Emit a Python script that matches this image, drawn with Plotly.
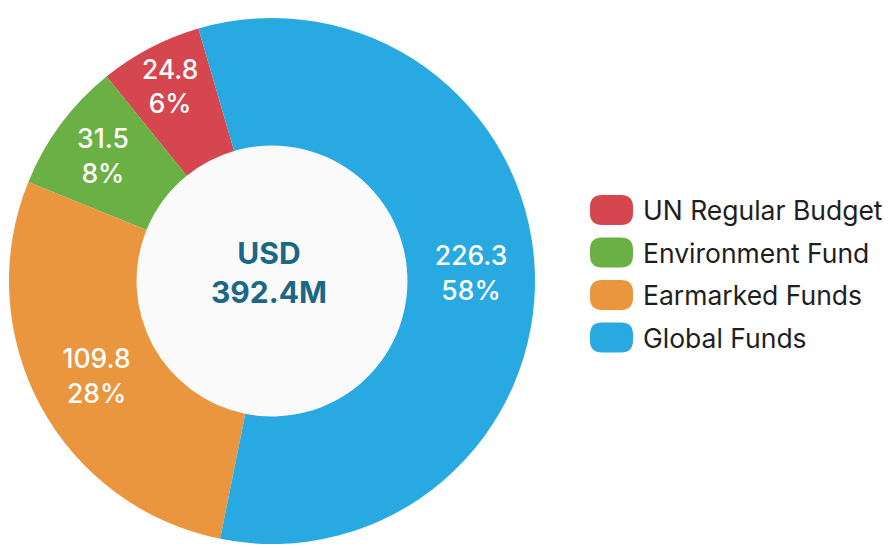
import plotly.graph_objects as go

labels = ["UN Regular Budget", "Environment Fund", "Earmarked Funds", "Global Funds"]
values = [24.8, 31.5, 109.8, 226.3]
colors = ["#d6464f", "#6bb045", "#e9963e", "#29a9e1"]
center_label = "USD<br>392.4M"

# page body has an 8px margin; figure drawn in reference pixel coords minus 8
OFF = 8
W, H = 890 - OFF, 550 - OFF
X = lambda px: (px - OFF) / W
Y = lambda py: 1 - (py - OFF) / H

cx, cy, R = 272, 281, 263

fig = go.Figure()
fig.add_trace(go.Pie(
    labels=labels,
    values=values,
    hole=0.515,
    sort=False,
    direction="counterclockwise",
    rotation=-39,
    marker=dict(colors=colors, line=dict(width=0)),
    texttemplate="%{value}<br>%{percent:.0%}",
    textposition="inside",
    insidetextorientation="horizontal",
    insidetextfont=dict(family="Inter", size=26.5, color="white", weight=500),
    domain=dict(x=[X(cx - R), X(cx + R)], y=[Y(cy + R), Y(cy - R)]),
    showlegend=False,
))

# hole fill (near-white)
r = 135
fig.add_shape(type="circle", xref="paper", yref="paper",
              x0=X(cx - r), x1=X(cx + r), y0=Y(cy + r), y1=Y(cy - r),
              fillcolor="#fafafa", line=dict(width=0), layer="below")

fig.add_annotation(x=X(269), y=Y(272), xref="paper", yref="paper",
                   xanchor="center", yanchor="middle",
                   text="<b>" + center_label + "</b>", showarrow=False,
                   font=dict(family="Inter", size=30, color="#1b6787"),
                   align="center")

# custom legend with rounded swatches
def rrect(x0, y0, x1, y1, rad):
    return (f"M {X(x0 + rad)} {Y(y0)} L {X(x1 - rad)} {Y(y0)} Q {X(x1)} {Y(y0)} {X(x1)} {Y(y0 + rad)} "
            f"L {X(x1)} {Y(y1 - rad)} Q {X(x1)} {Y(y1)} {X(x1 - rad)} {Y(y1)} "
            f"L {X(x0 + rad)} {Y(y1)} Q {X(x0)} {Y(y1)} {X(x0)} {Y(y1 - rad)} "
            f"L {X(x0)} {Y(y0 + rad)} Q {X(x0)} {Y(y0)} {X(x0 + rad)} {Y(y0)} Z")

leg_y0 = 210
leg_step = 42.5
for i, (lab, col) in enumerate(zip(labels, colors)):
    yc = leg_y0 + i * leg_step
    fig.add_shape(type="path", xref="paper", yref="paper",
                  path=rrect(590, yc - 15, 633, yc + 15, 12),
                  fillcolor=col, line=dict(width=0))
    fig.add_annotation(x=X(641), y=Y(yc), xref="paper", yref="paper",
                       text=lab, showarrow=False, xanchor="left", yanchor="middle",
                       font=dict(family="Inter", size=26.5, color="#1e1e1e"))

fig.update_layout(
    width=W, height=H,
    margin=dict(l=0, r=0, t=0, b=0),
    paper_bgcolor="white",
    plot_bgcolor="white",
)

fig.write_html("out.html")
